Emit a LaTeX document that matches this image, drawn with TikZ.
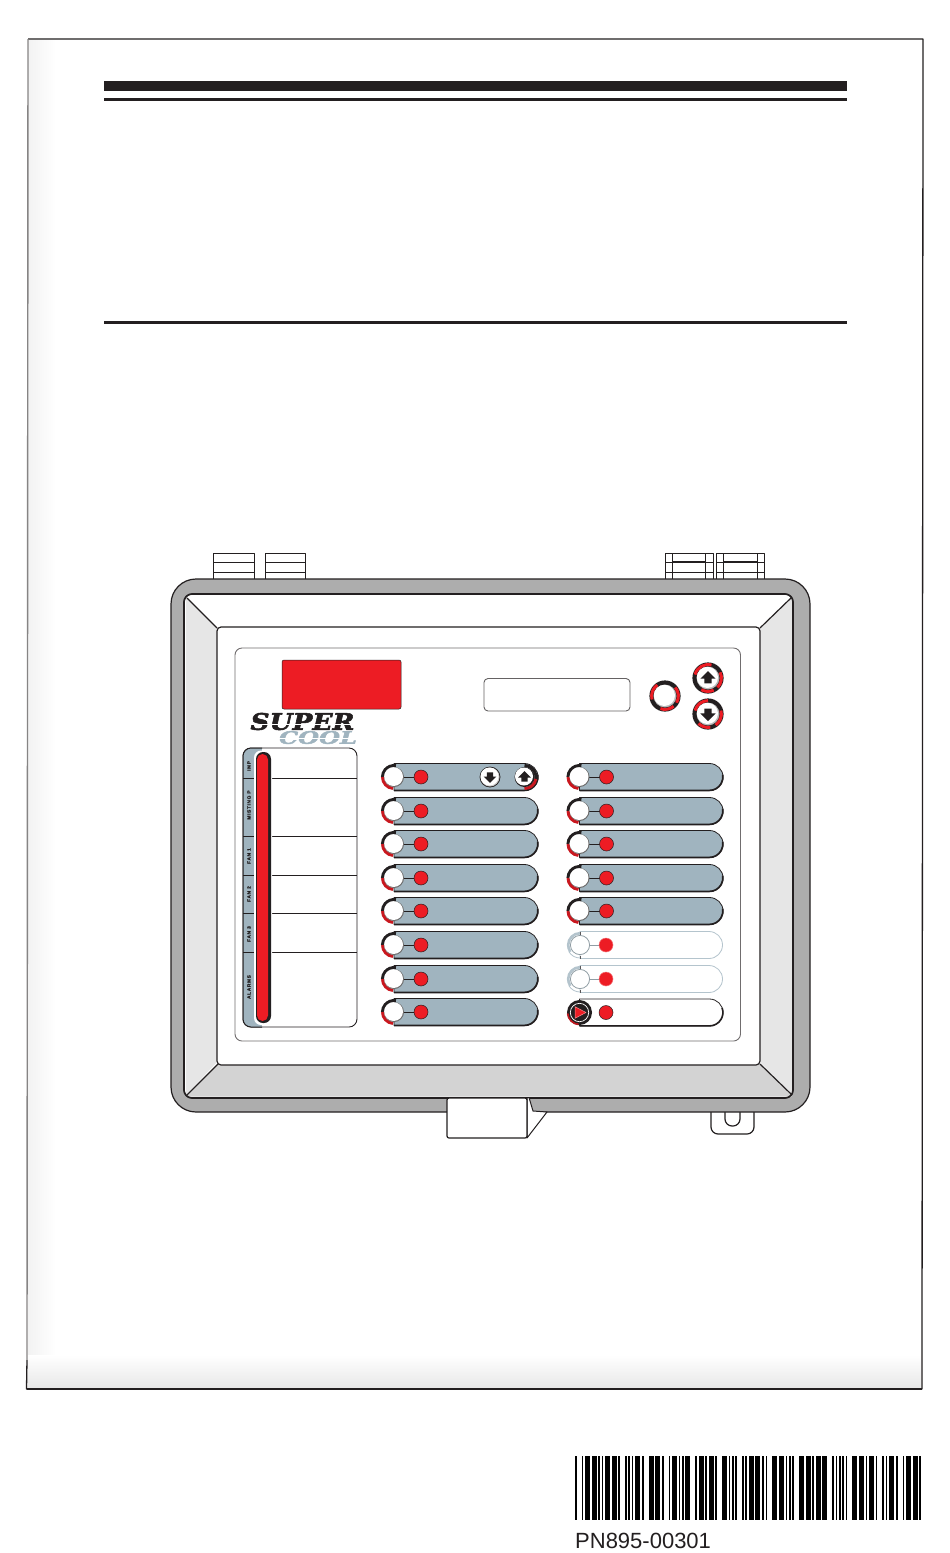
\documentclass[tikz,border=0pt]{standalone}
\usepackage{fontspec}
\setmainfont{Liberation Sans}
\newfontfamily\tinylabel[LetterSpace=14,FakeBold=0.6]{Liberation Sans}
\newfontfamily\logofont[FakeBold=2.2]{DejaVu Serif}
\definecolor{ink}{HTML}{231F20}
\definecolor{ledred}{HTML}{ED1C24}
\definecolor{slate}{HTML}{A0B4BF}
\definecolor{paleslate}{HTML}{B4C4CD}
\definecolor{shell}{HTML}{ADADAD}
\definecolor{bevel}{HTML}{E6E6E6}
\definecolor{bevellow}{HTML}{D3D3D3}
\tikzset{
  edge/.style={draw=ink,line width=1.2pt},
  thin edge/.style={draw=ink,line width=0.8pt},
  led/.style={fill=ledred,draw=ink,line width=0.5pt},
  softled/.style={fill=ledred,draw=ledred!60,line width=0.5pt},
  vlabel/.style={rotate=90,text=ink,inner sep=0pt,font=\tinylabel\bfseries\fontsize{4.8}{5}\selectfont},
}
% ---- barcode (Code 39) ----
\def\bcx{575}
\def\bcN{1.671}
\def\bcW{5.013}
\def\bcadv#1{\pgfmathsetmacro\bctmp{\bcx+#1}\global\let\bcx\bctmp}
\def\bb#1{\ifnum#1=1 \fill[black] (\bcx,1456) rectangle ++(\bcW,64);\bcadv{\bcW}\else \fill[black] (\bcx,1456) rectangle ++(\bcN,64);\bcadv{\bcN}\fi}
\def\bs#1{\ifnum#1=1 \bcadv{\bcW}\else \bcadv{\bcN}\fi}
\def\bcchar#1#2#3#4#5#6#7#8#9{\bb{#1}\bs{#2}\bb{#3}\bs{#4}\bb{#5}\bs{#6}\bb{#7}\bs{#8}\bb{#9}\bs{0}}
% ---- arrows in local y-up coordinates ----
\def\uparrowshape{\fill[ink] (0,7)--(7.6,-0.6)--(3.6,-0.6)--(3.6,-5.4)--(-3.6,-5.4)--(-3.6,-0.6)--(-7.6,-0.6)--cycle;}
\def\downarrowshape{\fill[ink] (0,-7)--(7.6,0.6)--(3.6,0.6)--(3.6,5.4)--(-3.6,5.4)--(-3.6,0.6)--(-7.6,0.6)--cycle;}
% ---- big ringed button: #1 x, #2 y, #3 content ----
\newcommand{\ringbutton}[3]{%
  \begin{scope}[shift={(#1,#2)},y=1pt]
    \fill[ink] (0,0) circle (15.6);
    \foreach \sa/\ea in {#3}{\draw[ledred,line width=3pt] (\sa:13.4) arc[start angle=\sa,end angle=\ea,radius=13.4];}
    \fill[gray!55] (0,0) circle (11.4);
    \fill[white] (-0.6,0.6) circle (10.6);
  \end{scope}}
% ---- pill body: #1 left x, #2 centre y, #3 width ----
\newcommand{\pillbody}[5]{%
  \begin{scope}[shift={(#1,#2)},y=1pt]
    \path[fill=#4,draw=#5,line width=0.8pt] (13,13.5)--(#3-13.5,13.5) arc[start angle=90,end angle=-90,radius=13.5]--(13,-13.5)--cycle;
  \end{scope}}
\newcommand{\darkpill}[3]{%
  \pillbody{#1}{#2}{#3}{slate}{ink}
  \begin{scope}[shift={(#1,#2)},y=1pt]
    \draw[ink,line width=1.7pt] (13,-13.4)--(#3-13.5,-13.4) arc[start angle=-90,end angle=10,radius=13.4];
    \draw[ink,line width=3pt] (11.5*0.17+13,11.5*0.98) arc[start angle=80,end angle=180,radius=11.5];
    \draw[ledred!85!black,line width=3pt] (1.5,0) arc[start angle=180,end angle=265,radius=11.5];
    \draw[ink,line width=0.9pt] (22,0)--(40,0);
    \fill[gray!80!ink] (13,0) circle (10);
    \fill[white] (12.6,0.4) circle (9.4);
    \path[led] (40,0) circle (7);
  \end{scope}}
\newcommand{\lightpill}[3]{%
  \pillbody{#1}{#2}{#3}{white}{paleslate}
  \begin{scope}[shift={(#1,#2)},y=1pt]
    \draw[paleslate,line width=2.6pt] (13,11.8) arc[start angle=90,end angle=215,radius=11.8];
    \draw[paleslate,line width=0.8pt] (13,-13) arc[start angle=270,end angle=210,radius=13];
    \fill[white] (13,0) circle (9.6);
    \draw[paleslate!80!black,line width=0.8pt] (13,0) circle (9.6);
    \draw[ink!75,line width=0.6pt] (13,13.5)--(13,10.5) (13,-13.5)--(13,-10.5);
    \draw[paleslate!80!black,line width=0.8pt] (22.6,0)--(33,0);
    \path[softled] (39,0) circle (7);
  \end{scope}}
\begin{document}
\begin{tikzpicture}[x=1pt,y=-1pt,line join=round]
\useasboundingbox (0,0) rectangle (950,1553);
\fill[white] (0,0) rectangle (950,1553);
% page shadows
\shade[left color=black!5,right color=white] (28,40) rectangle (56,1388);
\shade[top color=white,bottom color=black!9] (27,1355) rectangle (921,1388);
% page border
\draw[ink,line width=1.3pt] (27,1360)--(26.5,1389)--(922,1389)--(923,39)--(28,39);
\draw[ink!55,line width=1.4pt] (28,39)--(27,1360);
\draw[ink,line width=2.4pt] (26.5,1389)--(922,1389);
% header rules
\fill[ink] (104,81) rectangle (847,91);
\fill[ink] (104,98) rectangle (847,101);
\fill[ink] (104,321) rectangle (847,324);
% cable connectors at top
\foreach \a/\b in {213/254,265/305}{
  \draw[thin edge] (\a,581)--(\a,553)--(\b,553)--(\b,581);
  \draw[thin edge] (\a,562)--(\b,562) (\a,572.5)--(\b,572.5);
}
\foreach \a/\b/\c/\d in {665/672/705/713,716/723/757/764}{
  \draw[draw=ink,line width=0.6pt] (\a,581)--(\a,553)--(\d,553)--(\d,581) (\b,553)--(\b,581) (\c,553)--(\c,581);
  \draw[draw=ink,line width=0.6pt] (\a,572.5)--(\d,572.5) (\a,562)--(\d,562);
  \draw[draw=ink,line width=1.1pt] (\b,562)--(\c,562) (\b,572.5)--(\c,572.5);
}
% lug
\draw[edge,fill=white,rounded corners=7pt] (711,1108)--(711,1134)--(754,1134)--(754,1108);
\draw[edge,rounded corners=7pt] (725,1108)--(725,1126)--(740,1126)--(740,1108);
% enclosure
\draw[edge,fill=shell,rounded corners=25pt] (171,579) rectangle (810,1112);
\draw[edge,fill=white,rounded corners=8pt] (184,594) rectangle (793,1098);
\fill[bevel] (186,597)--(217,629)--(217,1062)--(186,1095)--cycle;
\fill[bevel] (792,597)--(760,629)--(760,1062)--(792,1095)--cycle;
\fill[bevellow] (218,1064)--(761,1064)--(792,1096.5)--(187,1096.5)--cycle;
\draw[edge] (187,598)--(217,628) (792,597)--(760,628) (218,1064)--(187,1095) (760,1064)--(792,1095);
\draw[draw=ink,line width=1.6pt,rounded corners=8pt] (184,594) rectangle (793,1098);
\draw[edge,fill=white,rounded corners=4pt] (217,627) rectangle (760,1065);
% front latch
\path[fill=white,draw=ink,line width=1pt] (529,1097.5)--(533,1111)--(547,1112)--(527,1138)--(527,1097.5)--cycle;
\path[fill=white,edge,rounded corners=2pt] (447,1098)--(447,1138)--(527,1138)--(527,1098)--cycle;
% faceplate
\draw[draw=ink!65,line width=0.9pt,fill=white,rounded corners=7pt] (235,648) rectangle (740.5,1041);
\path[fill=ledred,draw=ink,line width=0.5pt,rounded corners=2pt] (282,660) rectangle (401,709);
\path[draw=ink!70,fill=white,line width=0.9pt,rounded corners=4pt] (484,678.5) rectangle (630,711);
% logo
\node (cool) at (318,737.5) [inner sep=0pt,text=slate,xscale=1.0,yscale=0.72] {\logofont\bfseries\itshape\fontsize{24}{24}\selectfont COOL};
\node (super) at (302.5,721.5) [inner sep=0pt,text=ink,xscale=1.1,yscale=0.95] {\logofont\bfseries\itshape\fontsize{24}{24}\selectfont SUPER};
\draw[white,line width=0.6pt] (248,724)--(358,724) (278,738)--(358,738);
% ring buttons
\ringbutton{665}{696}{125/195,-30/40,-110/-50}
\ringbutton{708}{678}{75/165,-45/25,-120/-65}
\ringbutton{708}{714}{90/165,-55/15,-135/-80}
\begin{scope}[shift={(708,678)},y=1pt]\uparrowshape\end{scope}
\begin{scope}[shift={(708,714)},y=1pt]\downarrowshape\end{scope}
% zone list
\draw[draw=ink,line width=0.9pt,fill=white,rounded corners=8pt] (243,748) rectangle (357,1027);
\begin{scope}
  \clip[rounded corners=8pt] (243,748) rectangle (357,1027);
  \fill[slate] (243,748) rectangle (262,1027);
\end{scope}
\draw[draw=ink,line width=1pt,rounded corners=8pt] (262,1027)--(243,1027)--(243,748)--(262,748);
\foreach \yy in {778,836.5,875.5,913.5,952.5}{
  \draw[draw=ink,line width=0.8pt] (243,\yy)--(256,\yy) (270,\yy)--(357,\yy);
}
\path[fill=white,rounded corners=7pt] (254,750.5) rectangle (272,1025);
\path[fill=ink,rounded corners=7pt] (256,752) rectangle (271,1023);
\path[fill=ledred,rounded corners=5.5pt] (257,754) rectangle (268,1021);
\node[vlabel] (lbimp) at (249,766) {IMP};
\node[vlabel] (lbmist) at (249,805) {MISTING P};
\node[vlabel] (lbfan1) at (249,856) {FAN 1};
\node[vlabel] (lbfan2) at (249,894) {FAN 2};
\node[vlabel] (lbfan3) at (249,934) {FAN 3};
\node[vlabel] (lbalarm) at (249,987) {ALARMS};
% left column
\foreach \yy in {777,811,844,878,911,945,979,1012}{\darkpill{381}{\yy}{157}}
% right column
\foreach \yy in {777,811,844,878,911}{\darkpill{566.5}{\yy}{156.5}}
\foreach \yy in {945,979}{\lightpill{567}{\yy}{155.5}}
% last right row
\pillbody{566.5}{1012.5}{156.5}{white}{ink}
\begin{scope}[shift={(566.5,1012.5)},y=1pt]
  \draw[ink,line width=1.6pt] (13,-13.4)--(143,-13.4) arc[start angle=-90,end angle=20,radius=13.4];
  \fill[ink] (13,0) circle (12.5);
  \draw[ledred!80!black,line width=1.8pt] (1.2,-1) arc[start angle=185,end angle=265,radius=12];
  \fill[ink] (13,0) circle (10.8);
  \draw[white,line width=0.7pt] (13,0) circle (9.2);
  \path[fill=ledred,draw=ledred!50,line width=0.5pt] (8.5,5.8)--(19.5,0)--(8.5,-5.8)--cycle;
  \path[led] (39.5,0) circle (7);
\end{scope}
% row-one arrow buttons
\begin{scope}[shift={(490,777)},y=1pt]
  \fill[ink] (0,0) circle (10.4);
  \fill[gray!40] (0,0) circle (9.5);
  \fill[white] (-0.5,0.5) circle (9);
  \begin{scope}[scale=0.85]\downarrowshape\end{scope}
\end{scope}
\begin{scope}[shift={(524.5,777)},y=1pt]
  \draw[ink,line width=3pt] (0,11.5) arc[start angle=90,end angle=-10,radius=11.5];
  \draw[ledred!85!black,line width=3pt] (11.3,-2) arc[start angle=-10,end angle=-90,radius=11.5];
  \fill[ink] (0,0) circle (10);
  \fill[white] (-0.5,0.5) circle (9);
  \begin{scope}[scale=0.85]\uparrowshape\end{scope}
\end{scope}
% barcode
\bcchar 010010100
\bcchar 001010010
\bcchar 000010011
\bcchar 100100100
\bcchar 001100100
\bcchar 100110000
\bcchar 010000101
\bcchar 000110100
\bcchar 000110100
\bcchar 101100000
\bcchar 000110100
\bcchar 100100001
\bcchar 010010100
\node[anchor=base west,inner sep=0pt,text=ink,font=\fontsize{22}{24}\selectfont] (pn) at (575,1548) {PN895-00301};
\end{tikzpicture}
\end{document}
